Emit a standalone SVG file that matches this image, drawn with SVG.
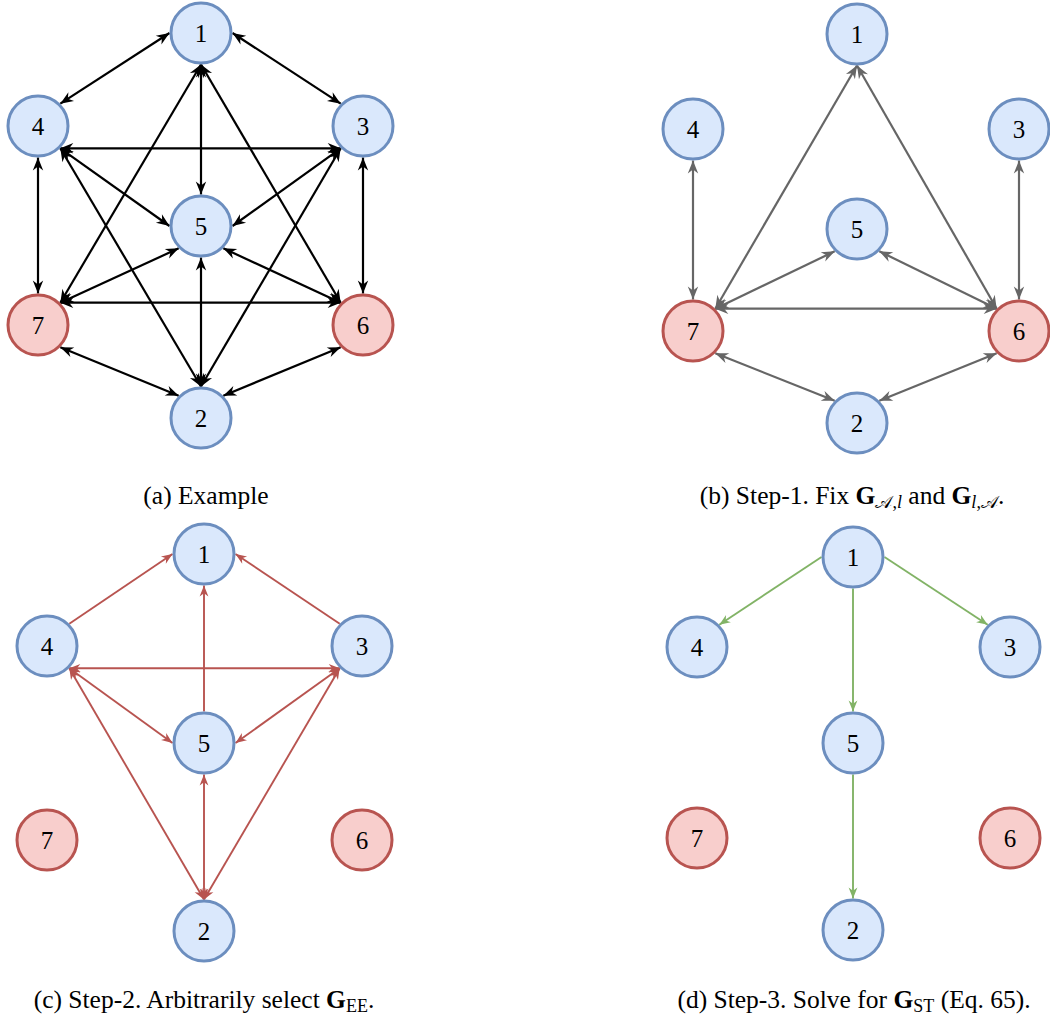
<svg xmlns="http://www.w3.org/2000/svg" width="1050" height="1025" viewBox="0 0 1050 1025">
<style>
.nb{fill:#dae8fc;stroke:#6c8ebf;stroke-width:3}
.nr{fill:#f8cecc;stroke:#b85450;stroke-width:3}
.lbl{font-family:"Liberation Serif","DejaVu Serif",serif;font-size:25px;text-anchor:middle;fill:#000}
.cap{font-family:"Liberation Serif","Times New Roman",serif;font-size:25.5px;text-anchor:middle;fill:#000}
.sub{font-size:18px}
.ea{fill:none;stroke:#000;stroke-width:2.2;marker-start:url(#mk);marker-end:url(#mk)}
.eb{fill:none;stroke:#666;stroke-width:2.2;marker-start:url(#mg);marker-end:url(#mg)}
.ec{fill:none;stroke:#b85450;stroke-width:1.9;marker-end:url(#mr)}
.ec2{fill:none;stroke:#b85450;stroke-width:1.9;marker-start:url(#mr);marker-end:url(#mr)}
.ed{fill:none;stroke:#82b366;stroke-width:1.9;marker-end:url(#mgr)}
</style>
<defs>
<marker id="mk" markerUnits="userSpaceOnUse" markerWidth="15" markerHeight="12" refX="13" refY="6" orient="auto-start-reverse" overflow="visible"><path d="M13,6 L0,0.8 L4,6 L0,11.2 Z" fill="#000"/></marker>
<marker id="mg" markerUnits="userSpaceOnUse" markerWidth="15" markerHeight="12" refX="13" refY="6" orient="auto-start-reverse" overflow="visible"><path d="M13,6 L0,0.8 L4,6 L0,11.2 Z" fill="#666"/></marker>
<marker id="mr" markerUnits="userSpaceOnUse" markerWidth="12" markerHeight="10" refX="11" refY="5" orient="auto-start-reverse" overflow="visible"><path d="M11,5 L0,0.6 L3.3,5 L0,9.4 Z" fill="#b85450"/></marker>
<marker id="mgr" markerUnits="userSpaceOnUse" markerWidth="12" markerHeight="10" refX="11" refY="5" orient="auto-start-reverse" overflow="visible"><path d="M11,5 L0,0.6 L3.3,5 L0,9.4 Z" fill="#82b366"/></marker>
</defs>
<rect width="1050" height="1025" fill="#fff"/>

<g id="connectors">
<g id="edges-a">
<line class="ea" x1="169.5" y1="33" x2="60.3" y2="103.7"/>
<line class="ea" x1="232.5" y1="33" x2="340.7" y2="103.7"/>
<line class="ea" x1="201" y1="64.5" x2="201" y2="194.5"/>
<line class="ea" x1="201" y1="64.5" x2="60.3" y2="302.7"/>
<line class="ea" x1="201" y1="64.5" x2="340.7" y2="302.7"/>
<line class="ea" x1="60.3" y1="148.3" x2="340.7" y2="148.3"/>
<line class="ea" x1="60.3" y1="148.3" x2="169.5" y2="226"/>
<line class="ea" x1="60.3" y1="148.3" x2="201" y2="386.5"/>
<line class="ea" x1="38" y1="157.5" x2="38" y2="293.5"/>
<line class="ea" x1="340.7" y1="148.3" x2="232.5" y2="226"/>
<line class="ea" x1="340.7" y1="148.3" x2="201" y2="386.5"/>
<line class="ea" x1="363" y1="157.5" x2="363" y2="293.5"/>
<line class="ea" x1="178.7" y1="248.3" x2="60.3" y2="302.7"/>
<line class="ea" x1="223.3" y1="248.3" x2="340.7" y2="302.7"/>
<line class="ea" x1="201" y1="257.5" x2="201" y2="386.5"/>
<line class="ea" x1="60.3" y1="302.7" x2="340.7" y2="302.7"/>
<line class="ea" x1="60.3" y1="347.3" x2="178.7" y2="395.7"/>
<line class="ea" x1="340.7" y1="347.3" x2="223.3" y2="395.7"/>
</g>
<g id="edges-b">
<line class="eb" x1="693" y1="160.5" x2="693" y2="299.5"/>
<line class="eb" x1="1019" y1="160.5" x2="1019" y2="299.5"/>
<line class="eb" x1="857" y1="65.5" x2="715.3" y2="308.7"/>
<line class="eb" x1="857" y1="65.5" x2="996.7" y2="308.7"/>
<line class="eb" x1="834.7" y1="251.3" x2="715.3" y2="308.7"/>
<line class="eb" x1="879.3" y1="251.3" x2="996.7" y2="308.7"/>
<line class="eb" x1="715.3" y1="308.7" x2="996.7" y2="308.7"/>
<line class="eb" x1="715.3" y1="353.3" x2="834.7" y2="400.7"/>
<line class="eb" x1="996.7" y1="353.3" x2="879.3" y2="400.7"/>
</g>
<g id="edges-c">
<line class="ec" x1="69.3" y1="623.7" x2="172.5" y2="554"/>
<line class="ec" x1="339.7" y1="623.7" x2="235.5" y2="554"/>
<line class="ec" x1="204" y1="711.5" x2="204" y2="585.5"/>
<line class="ec2" x1="69.3" y1="668.3" x2="339.7" y2="668.3"/>
<line class="ec2" x1="69.3" y1="668.3" x2="172.5" y2="743"/>
<line class="ec2" x1="339.7" y1="668.3" x2="235.5" y2="743"/>
<line class="ec2" x1="69.3" y1="668.3" x2="204" y2="899.5"/>
<line class="ec2" x1="339.7" y1="668.3" x2="204" y2="899.5"/>
<line class="ec2" x1="204" y1="774.5" x2="204" y2="899.5"/>
</g>
<g id="edges-d">
<line class="ed" x1="821.5" y1="557" x2="719.3" y2="624.7"/>
<line class="ed" x1="884.5" y1="557" x2="987.7" y2="624.7"/>
<line class="ed" x1="853" y1="588.5" x2="853" y2="711.5"/>
<line class="ed" x1="853" y1="774.5" x2="853" y2="898.5"/>
</g>
</g>

<g id="panel-a">
<g id="a1"><circle class="nb" cx="201" cy="33" r="30"/><text class="lbl" x="201" y="41.5">1</text></g>
<g id="a4"><circle class="nb" cx="38" cy="126" r="30"/><text class="lbl" x="38" y="134.5">4</text></g>
<g id="a3"><circle class="nb" cx="363" cy="126" r="30"/><text class="lbl" x="363" y="134.5">3</text></g>
<g id="a5"><circle class="nb" cx="201" cy="226" r="30"/><text class="lbl" x="201" y="234.5">5</text></g>
<g id="a7"><circle class="nr" cx="38" cy="325" r="30"/><text class="lbl" x="38" y="333.5">7</text></g>
<g id="a6"><circle class="nr" cx="363" cy="325" r="30"/><text class="lbl" x="363" y="333.5">6</text></g>
<g id="a2"><circle class="nb" cx="201" cy="418" r="30"/><text class="lbl" x="201" y="426.5">2</text></g>
</g>

<g id="panel-b">
<g id="b1"><circle class="nb" cx="857" cy="34" r="30"/><text class="lbl" x="857" y="42.5">1</text></g>
<g id="b4"><circle class="nb" cx="693" cy="129" r="30"/><text class="lbl" x="693" y="137.5">4</text></g>
<g id="b3"><circle class="nb" cx="1019" cy="129" r="30"/><text class="lbl" x="1019" y="137.5">3</text></g>
<g id="b5"><circle class="nb" cx="857" cy="229" r="30"/><text class="lbl" x="857" y="237.5">5</text></g>
<g id="b7"><circle class="nr" cx="693" cy="331" r="30"/><text class="lbl" x="693" y="339.5">7</text></g>
<g id="b6"><circle class="nr" cx="1019" cy="331" r="30"/><text class="lbl" x="1019" y="339.5">6</text></g>
<g id="b2"><circle class="nb" cx="857" cy="423" r="30"/><text class="lbl" x="857" y="431.5">2</text></g>
</g>

<g id="panel-c">
<g id="c1"><circle class="nb" cx="204" cy="554" r="30"/><text class="lbl" x="204" y="562.5">1</text></g>
<g id="c4"><circle class="nb" cx="47" cy="646" r="30"/><text class="lbl" x="47" y="654.5">4</text></g>
<g id="c3"><circle class="nb" cx="362" cy="646" r="30"/><text class="lbl" x="362" y="654.5">3</text></g>
<g id="c5"><circle class="nb" cx="204" cy="743" r="30"/><text class="lbl" x="204" y="751.5">5</text></g>
<g id="c7"><circle class="nr" cx="47" cy="840" r="30"/><text class="lbl" x="47" y="848.5">7</text></g>
<g id="c6"><circle class="nr" cx="362" cy="840" r="30"/><text class="lbl" x="362" y="848.5">6</text></g>
<g id="c2"><circle class="nb" cx="204" cy="931" r="30"/><text class="lbl" x="204" y="939.5">2</text></g>
</g>

<g id="panel-d">
<g id="d1"><circle class="nb" cx="853" cy="557" r="30"/><text class="lbl" x="853" y="565.5">1</text></g>
<g id="d4"><circle class="nb" cx="697" cy="647" r="30"/><text class="lbl" x="697" y="655.5">4</text></g>
<g id="d3"><circle class="nb" cx="1010" cy="647" r="30"/><text class="lbl" x="1010" y="655.5">3</text></g>
<g id="d5"><circle class="nb" cx="853" cy="743" r="30"/><text class="lbl" x="853" y="751.5">5</text></g>
<g id="d7"><circle class="nr" cx="697" cy="838" r="30"/><text class="lbl" x="697" y="846.5">7</text></g>
<g id="d6"><circle class="nr" cx="1010" cy="838" r="30"/><text class="lbl" x="1010" y="846.5">6</text></g>
<g id="d2"><circle class="nb" cx="853" cy="930" r="30"/><text class="lbl" x="853" y="938.5">2</text></g>
</g>

<g id="captions">
<text class="cap" x="206" y="504">(a) Example</text>
<text class="cap" x="852" y="504">(b) Step-1. Fix <tspan font-weight="bold">G</tspan><tspan class="sub" dy="4">𝒜,<tspan font-style="italic">l</tspan></tspan><tspan dy="-4"> and </tspan><tspan font-weight="bold">G</tspan><tspan class="sub" dy="4"><tspan font-style="italic">l</tspan>,𝒜</tspan><tspan dy="-4">.</tspan></text>
<text class="cap" x="204" y="1008">(c) Step-2. Arbitrarily select <tspan font-weight="bold">G</tspan><tspan class="sub" dy="4">EE</tspan><tspan dy="-4">.</tspan></text>
<text class="cap" x="854" y="1008">(d) Step-3. Solve for <tspan font-weight="bold">G</tspan><tspan class="sub" dy="4">ST</tspan><tspan dy="-4"> (Eq. 65).</tspan></text>
</g>
</svg>
